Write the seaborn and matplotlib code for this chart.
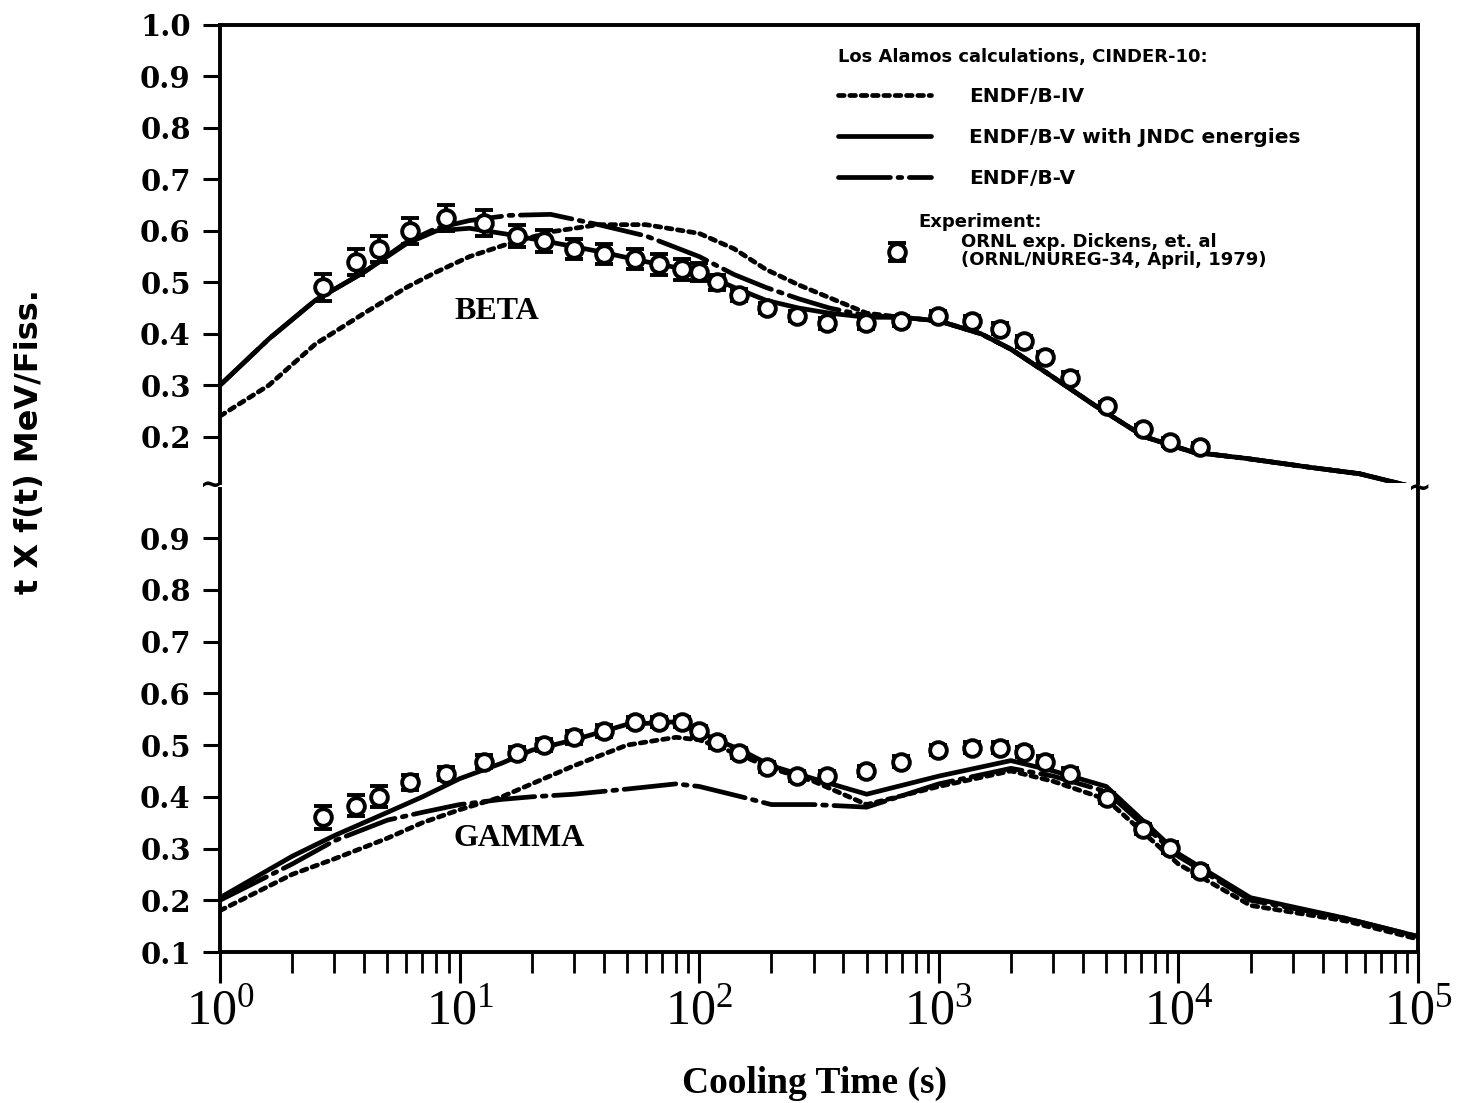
import numpy as np
import pandas as pd
import matplotlib
matplotlib.use("Agg")
import matplotlib.pyplot as plt
import seaborn as sns
from matplotlib.ticker import LogLocator, NullFormatter, FixedLocator

# ---- calculated curves: beta decay heat (t * f(t), MeV/fission) ----
beta_time = [1, 1.6, 2.5, 4, 6, 8, 11, 16, 24, 38, 60, 100, 140, 190, 260, 350,
             500, 700, 1000, 1500, 2000, 2800, 4500, 7200, 11500, 19000, 36000,
             57000, 100000]
beta_endf4 = [0.24, 0.30, 0.38, 0.44, 0.49, 0.52, 0.55, 0.575, 0.598, 0.612, 0.612,
              0.595, 0.565, 0.525, 0.495, 0.47, 0.44, 0.432, 0.425, 0.40, 0.37,
              0.325, 0.26, 0.20, 0.17, 0.158, 0.14, 0.128, 0.10]
beta_jndc = [0.30, 0.39, 0.465, 0.52, 0.575, 0.60, 0.605, 0.593, 0.578, 0.56, 0.54,
             0.52, 0.49, 0.465, 0.45, 0.44, 0.432, 0.432, 0.425, 0.40, 0.37,
             0.325, 0.26, 0.20, 0.17, 0.158, 0.14, 0.128, 0.10]
beta_endf5 = [0.30, 0.39, 0.465, 0.52, 0.578, 0.605, 0.62, 0.63, 0.632, 0.612, 0.59,
              0.55, 0.515, 0.49, 0.468, 0.45, 0.435, 0.432, 0.425, 0.40, 0.37,
              0.325, 0.26, 0.20, 0.17, 0.158, 0.14, 0.128, 0.10]

# ---- calculated curves: gamma decay heat ----
gamma_time = [1, 2, 3, 5, 7, 10, 15, 20, 30, 50, 80, 100, 150, 200, 300, 500,
              1000, 2000, 3000, 5000, 10000, 20000, 50000, 100000]
gamma_endf4 = [0.18, 0.25, 0.28, 0.32, 0.35, 0.375, 0.40, 0.425, 0.46, 0.50, 0.515,
               0.51, 0.48, 0.455, 0.43, 0.385, 0.42, 0.45, 0.43, 0.395, 0.27,
               0.19, 0.16, 0.125]
gamma_jndc = [0.205, 0.285, 0.325, 0.37, 0.40, 0.435, 0.465, 0.49, 0.51, 0.54, 0.545,
              0.525, 0.49, 0.46, 0.435, 0.405, 0.44, 0.47, 0.45, 0.42, 0.29,
              0.205, 0.165, 0.13]
gamma_endf5 = [0.20, 0.27, 0.315, 0.355, 0.37, 0.385, 0.395, 0.40, 0.405, 0.415, 0.425,
               0.42, 0.40, 0.385, 0.385, 0.38, 0.425, 0.455, 0.44, 0.41, 0.285,
               0.20, 0.165, 0.13]

# ---- ORNL measurements (Dickens et al.) ----
exp_time = [2.7, 3.7, 4.6, 6.2, 8.8, 12.6, 17.3, 22.6, 30, 40, 54, 68, 85, 100, 119,
            147, 192, 256, 341, 497, 695, 991, 1373, 1796, 2260, 2765, 3514, 5012,
            7145, 9260, 12350]
exp_beta = [0.49, 0.54, 0.565, 0.60, 0.625, 0.615, 0.59, 0.58, 0.565, 0.555, 0.545,
            0.535, 0.525, 0.52, 0.50, 0.475, 0.45, 0.435, 0.42, 0.42, 0.425, 0.435,
            0.425, 0.41, 0.385, 0.355, 0.315, 0.26, 0.215, 0.19, 0.18]
exp_beta_err = [0.027, 0.025, 0.025, 0.025, 0.025, 0.025, 0.022, 0.022, 0.02, 0.02,
                0.02, 0.02, 0.02, 0.018, 0.015, 0.012, 0.01, 0.01, 0.01, 0.01, 0.01,
                0.01, 0.01, 0.01, 0.01, 0.01, 0.01, 0.008, 0.008, 0.008, 0.008]
exp_gamma = [0.36, 0.383, 0.40, 0.428, 0.445, 0.468, 0.485, 0.50, 0.515, 0.527, 0.545,
             0.545, 0.545, 0.527, 0.505, 0.485, 0.457, 0.44, 0.44, 0.45, 0.468, 0.49,
             0.495, 0.495, 0.487, 0.468, 0.445, 0.398, 0.338, 0.302, 0.257]
exp_gamma_err = [0.022, 0.02, 0.02, 0.015, 0.012, 0.012, 0.012, 0.012, 0.012, 0.012,
                 0.01, 0.01, 0.01, 0.01, 0.01, 0.01, 0.01, 0.01, 0.01, 0.01, 0.01,
                 0.01, 0.01, 0.01, 0.01, 0.01, 0.01, 0.01, 0.01, 0.01, 0.01]

legend_title = "Los Alamos calculations, CINDER-10:"
model_labels = ["ENDF/B-IV", "ENDF/B-V with JNDC energies", "ENDF/B-V"]
exp_label = "ORNL exp. Dickens, et. al\n(ORNL/NUREG-34, April, 1979)"

sns.set_style("ticks")
plt.rcParams.update({
    "font.family": ["DejaVu Sans"],
    "text.color": "black",
    "axes.labelcolor": "black",
    "xtick.color": "black",
    "ytick.color": "black",
    "axes.edgecolor": "black",
})

W, H = 1462, 1103
fig = plt.figure(figsize=(W / 100, H / 100), dpi=100)


def fx(px):
    return px / W


def fy(py):
    return 1 - py / H


left, right = 220, 1418
ax_top = fig.add_axes([fx(left), fy(483), fx(right - left), (483 - 25) / H])
ax_bot = fig.add_axes([fx(left), fy(952), fx(right - left), (952 - 489) / H])

line_kw = dict(color="black", linewidth=3.4)
dash_styles = {
    "ENDF/B-IV": (1.2, 1.2),
    "ENDF/B-V with JNDC energies": None,
    "ENDF/B-V": (11, 1.6, 0.8, 1.6),
}


def draw_models(ax, t, series):
    handles = []
    for label, vals in zip(model_labels, series):
        df = pd.DataFrame({"t": t, "v": vals})
        sns.lineplot(data=df, x="t", y="v", ax=ax, sort=True, legend=False,
                     zorder=2, **line_kw)
        ln = ax.lines[-1]
        ln.set_solid_capstyle("round")
        if dash_styles[label] is not None:
            ln.set_dashes(dash_styles[label])
            ln.set_dash_capstyle("round")
        handles.append(ln)
    return handles


handles = draw_models(ax_top, beta_time, [beta_endf4, beta_jndc, beta_endf5])
draw_models(ax_bot, gamma_time, [gamma_endf4, gamma_jndc, gamma_endf5])

err_kw = dict(fmt="o", ms=12, mfc="white", mec="black", mew=2.8, ecolor="black",
              elinewidth=2.8, capsize=6.5, capthick=2.8, zorder=4)
exp_handle = ax_top.errorbar(exp_time, exp_beta, yerr=exp_beta_err, **err_kw)
ax_bot.errorbar(exp_time, exp_gamma, yerr=exp_gamma_err, **err_kw)

tick_font = dict(family="DejaVu Serif", weight="bold", size=21)
for ax in (ax_top, ax_bot):
    ax.set_xscale("log")
    ax.set_xlim(1, 1e5)
    ax.set_xlabel("")
    ax.set_ylabel("")
    for s in ax.spines.values():
        s.set_linewidth(2.8)
        s.set_color("black")
    ax.tick_params(axis="y", which="major", direction="out", length=12, width=2.2,
                   pad=9, colors="black")
    ax.tick_params(axis="y", which="minor", left=False)

top_ticks = np.round(np.arange(0.2, 1.01, 0.1), 1)
ax_top.set_ylim(0.11, 1.0)
ax_top.yaxis.set_major_locator(FixedLocator(top_ticks))
ax_top.set_yticklabels([f"{v:.1f}" for v in top_ticks], **tick_font)
ax_top.spines["bottom"].set_visible(False)
ax_top.tick_params(axis="x", which="both", bottom=False, labelbottom=False,
                   top=False)

bot_ticks = np.round(np.arange(0.1, 0.91, 0.1), 1)
ax_bot.set_ylim(0.1, 0.995)
ax_bot.yaxis.set_major_locator(FixedLocator(bot_ticks))
ax_bot.set_yticklabels([f"{v:.1f}" for v in bot_ticks], **tick_font)
ax_bot.spines["top"].set_visible(False)

decades = [1, 10, 100, 1000, 10000, 100000]
ax_bot.xaxis.set_major_locator(FixedLocator(decades))
ax_bot.set_xticklabels([r"$\mathdefault{10^{%d}}$" % i for i in range(6)],
                       family="Liberation Serif", size=36)
ax_bot.xaxis.set_minor_locator(LogLocator(base=10, subs=np.arange(2, 10), numticks=40))
ax_bot.xaxis.set_minor_formatter(NullFormatter())
ax_bot.tick_params(axis="x", which="major", direction="out", length=22, width=2.2,
                   pad=4, colors="black")
ax_bot.tick_params(axis="x", which="minor", direction="out", length=15, width=2.0,
                   bottom=True)

# panel names
ax_top.text(14.3, 0.444, "BETA", family="Liberation Serif", weight="bold", size=23,
            ha="center", va="center", zorder=5)
ax_bot.text(17.8, 0.32, "GAMMA", family="Liberation Serif", weight="bold", size=23,
            ha="center", va="center", zorder=5)

# axis titles
fig.text(fx(815), fy(1083), "Cooling Time (s)", family="Liberation Serif",
         weight="bold", size=27, ha="center", va="center")
fig.text(fx(30), fy(442), "t X f(t) MeV/Fiss.", family="DejaVu Sans",
         weight="bold", size=23, rotation=90, ha="center", va="center")

# axis-break marks
for px, py in [(212, 486), (1420, 489)]:
    fig.text(fx(px), fy(py), "~", size=20, weight="bold", ha="center", va="center")

# legend for the calculations
title_font = dict(family="DejaVu Sans", weight="bold", size=13)
leg_font = dict(family="DejaVu Sans", weight="bold", size=14.5)
leg1 = ax_top.legend(handles=handles, labels=model_labels, title=legend_title,
                     loc="upper left", bbox_to_anchor=(fx(838), fy(48)),
                     bbox_transform=fig.transFigure, frameon=False,
                     handlelength=4.6, handletextpad=1.9, labelspacing=1.1,
                     borderpad=0, borderaxespad=0, alignment="left",
                     prop=leg_font, title_fontproperties=title_font)
leg1._legend_box.sep = 15
ax_top.add_artist(leg1)

fig.text(fx(918), fy(222), "Experiment:", ha="left", va="center", **title_font)
leg2 = ax_top.legend(handles=[exp_handle], labels=[exp_label], loc="upper left",
                     bbox_to_anchor=(fx(883), fy(233)),
                     bbox_transform=fig.transFigure, frameon=False,
                     handlelength=1.5, handletextpad=2.8, borderpad=0,
                     borderaxespad=0, prop=title_font)
for t in leg2.get_texts():
    t.set_linespacing(1.0)

fig.savefig("out.png", dpi=100)
